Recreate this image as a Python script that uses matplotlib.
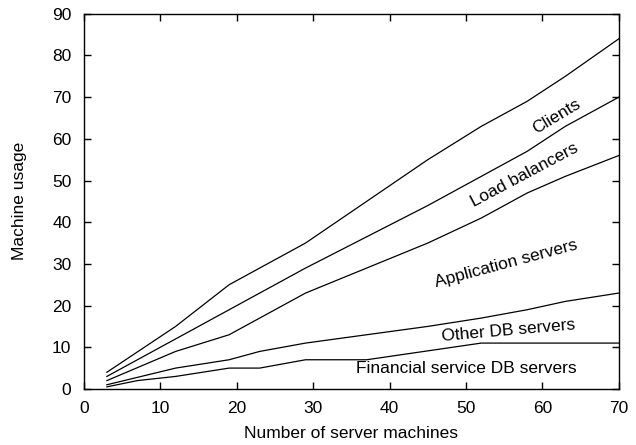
import matplotlib
matplotlib.use('Agg')
import matplotlib.pyplot as plt

plt.rcParams['font.family'] = ['Liberation Sans', 'DejaVu Sans']

clients_x = [3, 12, 19, 29, 45, 52, 58, 63, 70]
clients_y = [4, 15, 25, 35, 55, 63, 69, 75, 84]

lb_x = [3, 12, 19, 29, 45, 52, 58, 63, 70]
lb_y = [3, 12, 19, 29, 44, 51, 57, 63, 70]

app_x = [3, 12, 19, 29, 45, 52, 58, 63, 70]
app_y = [2, 9, 13, 23, 35, 41, 47, 51, 56]

other_x = [3, 12, 19, 23, 29, 45, 52, 58, 63, 70]
other_y = [1, 5, 7, 9, 11, 15, 17, 19, 21, 23]

fin_x = [3, 7, 12, 19, 23, 29, 37, 52, 58, 63, 70]
fin_y = [0.5, 2, 3, 5, 5, 7, 7, 11, 11, 11, 11]

labels = ['Clients', 'Load balancers', 'Application servers',
          'Other DB servers', 'Financial service DB servers']
label_pos = [(61.9, 65.3), (57.6, 51.4), (55.2, 30.0), (55.6, 13.9), (50.0, 5.0)]
label_rot = [31, 28, 15, 5, 0]

fs = 12.5

fig = plt.figure(figsize=(6.36, 4.45), dpi=100)
ax = fig.add_axes([0.132, 0.126, 0.841, 0.843])

for xs, ys in [(clients_x, clients_y), (lb_x, lb_y), (app_x, app_y),
               (other_x, other_y), (fin_x, fin_y)]:
    ax.plot(xs, ys, color='black', linewidth=0.9)

for txt, (tx, ty), rot in zip(labels, label_pos, label_rot):
    ax.text(tx, ty, txt, rotation=rot, ha='center', va='center', fontsize=fs,
            rotation_mode='anchor')

ax.set_xlim(0, 70)
ax.set_ylim(0, 90)
ax.set_xticks(range(0, 71, 10))
ax.set_yticks(range(0, 91, 10))
ax.tick_params(direction='in', top=True, right=True, length=5, width=1,
               labelsize=fs)
ax.tick_params(axis='x', pad=9)
ax.tick_params(axis='y', pad=9)
for s in ax.spines.values():
    s.set_linewidth(1)

ax.set_xlabel('Number of server machines', fontsize=fs, labelpad=7)
ax.set_ylabel('Machine usage', fontsize=fs, labelpad=18)

fig.savefig('out.png', dpi=100)
